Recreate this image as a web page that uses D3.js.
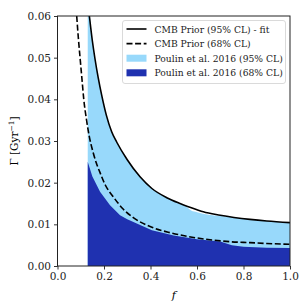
<!DOCTYPE html>
<html lang="en">
<head>
<meta charset="UTF-8">
<script src="https://d3js.org/d3.v7.min.js"></script>
<style>
  body { margin: 0; background: #fff; }
  text { font-family: "DejaVu Serif", serif; }
</style>
</head>
<body>
<svg id="chart"></svg>
<script>
// values: [f, Gamma]
const cmb95 = [[0.137,0.060],[0.15,0.0540],[0.161,0.0498],[0.175,0.0452],[0.19,0.0410],[0.21,0.0362],
  [0.233,0.0322],[0.255,0.0297],[0.3,0.0255],[0.355,0.0214],[0.406,0.0186],[0.47,0.0164],[0.527,0.0150],
  [0.6,0.0135],[0.627,0.0130],[0.7,0.0122],[0.828,0.0112],[0.9,0.0108],[1.0,0.0104]];
const cmb68 = [[0.0826,0.060],[0.09,0.0545],[0.097,0.050],[0.105,0.045],[0.113,0.040],[0.125,0.035],
  [0.137,0.031],[0.152,0.0275],[0.167,0.0247],[0.183,0.0224],[0.205,0.0195],[0.24,0.0166],[0.28,0.0138],
  [0.326,0.0116],[0.406,0.0093],[0.484,0.0080],[0.56,0.0071],[0.656,0.0063],[0.75,0.0058],[0.828,0.0056],
  [0.9,0.0054],[1.0,0.0052]];
const poulin95 = [[0.13,0.06],[0.137,0.06],[0.15,0.0540],[0.161,0.0498],[0.175,0.0452],[0.19,0.0410],
  [0.21,0.0362],[0.233,0.0322],[0.255,0.0297],[0.3,0.0255],[0.355,0.0214],[0.406,0.0186],[0.47,0.0164],
  [0.527,0.0150],[0.555,0.0142],[0.575,0.0133],[0.6,0.0129],[0.65,0.0123],[0.7,0.0120],[0.75,0.0117],
  [0.828,0.0112],[0.9,0.0108],[1.0,0.0104]];
const poulin68 = [[0.13,0.025],[0.15,0.0215],[0.183,0.0178],[0.226,0.0146],[0.269,0.0122],[0.3,0.0112],
  [0.406,0.0086],[0.5,0.0073],[0.6,0.0064],[0.7,0.0059],[0.75,0.0050],[0.8,0.0046],[0.9,0.0044],[1.0,0.0043]];
const xTicks = [0, 0.2, 0.4, 0.6, 0.8, 1.0];
const yTicks = [0, 0.01, 0.02, 0.03, 0.04, 0.05, 0.06];
const legendLabels = ["CMB Prior (95% CL) - fit", "CMB Prior (68% CL)",
  "Poulin et al. 2016 (95% CL)", "Poulin et al. 2016 (68% CL)"];

const width = 304, height = 304;
const m = { left: 57.5, right: 14, top: 16, bottom: 38 };
const light = "#98d9fb", dark = "#1f31b0";

const svg = d3.select("#chart").attr("width", width).attr("height", height);

const x = d3.scaleLinear().domain([0, 1]).range([m.left, width - m.right]);
const y = d3.scaleLinear().domain([0, 0.06]).range([height - m.bottom, m.top]);

svg.append("clipPath").attr("id", "clip").append("rect")
  .attr("x", x(0)).attr("y", y(0.06)).attr("width", x(1) - x(0)).attr("height", y(0) - y(0.06));

const plot = svg.append("g").attr("clip-path", "url(#clip)");

const area = d3.area().x(d => x(d[0])).y0(y(0)).y1(d => y(d[1]));
const line = d3.line().x(d => x(d[0])).y(d => y(d[1])).curve(d3.curveMonotoneX);

plot.append("path").attr("d", area.curve(d3.curveMonotoneX)(poulin95)).attr("fill", light);
plot.append("path").attr("d", area.curve(d3.curveLinear)(poulin68)).attr("fill", dark);
plot.append("path").attr("d", line(cmb68)).attr("fill", "none")
  .attr("stroke", "#000").attr("stroke-width", 1.6).attr("stroke-dasharray", "6,2.6");
plot.append("path").attr("d", line(cmb95)).attr("fill", "none")
  .attr("stroke", "#000").attr("stroke-width", 1.6);

// axes
const xAxis = svg.append("g").attr("transform", `translate(0,${y(0)})`)
  .call(d3.axisBottom(x).tickValues(xTicks).tickFormat(d3.format(".1f")).tickSize(3.5).tickPadding(3));
const yAxis = svg.append("g").attr("transform", `translate(${x(0)},0)`)
  .call(d3.axisLeft(y).tickValues(yTicks).tickFormat(d3.format(".2f")).tickSize(3.5).tickPadding(3));
[xAxis, yAxis].forEach(a => {
  a.select(".domain").remove();
  a.selectAll("line").attr("stroke", "#000").attr("stroke-width", 0.8);
  a.selectAll("text").attr("font-family", "DejaVu Serif").attr("font-size", 10.5).attr("fill", "#222");
});

// frame
svg.append("rect").attr("x", x(0)).attr("y", y(0.06))
  .attr("width", x(1) - x(0)).attr("height", y(0) - y(0.06))
  .attr("fill", "none").attr("stroke", "#222").attr("stroke-width", 1);

// axis labels
svg.append("text").attr("x", (x(0) + x(1)) / 2).attr("y", 299)
  .attr("text-anchor", "middle").attr("font-style", "italic").attr("font-size", 11).text("f");
svg.append("text").attr("transform", `translate(18,${(y(0) + y(0.06)) / 2}) rotate(-90)`)
  .attr("text-anchor", "middle").attr("font-size", 10.5)
  .text("Γ [Gyr")
  .append("tspan").attr("dy", -4).attr("font-size", 7.5).text("−1")
  .clone().attr("dy", 4).attr("font-size", 10.5).text("]");

// legend
const lg = svg.append("g").attr("transform", "translate(122.5,20.5)");
lg.append("rect").attr("width", 163).attr("height", 63).attr("rx", 2.5)
  .attr("fill", "#fff").attr("fill-opacity", 0.85).attr("stroke", "#d0d0d0").attr("stroke-width", 0.8);
const rows = lg.selectAll("g.row").data(legendLabels).join("g")
  .attr("transform", (d, i) => `translate(0,${8.5 + i * 14.6})`);
rows.each(function (d, i) {
  const g = d3.select(this);
  if (i < 2) {
    g.append("line").attr("x1", 4).attr("x2", 24).attr("stroke", "#000").attr("stroke-width", 1.6)
      .attr("stroke-dasharray", i === 1 ? "6,2.6" : null);
  } else {
    g.append("rect").attr("x", 4).attr("y", -3.5).attr("width", 20).attr("height", 7)
      .attr("fill", i === 2 ? light : dark);
  }
  g.append("text").attr("x", 32).attr("y", 3.5).attr("font-size", 9.2).attr("fill", "#222").text(d);
});
</script>
</body>
</html>
